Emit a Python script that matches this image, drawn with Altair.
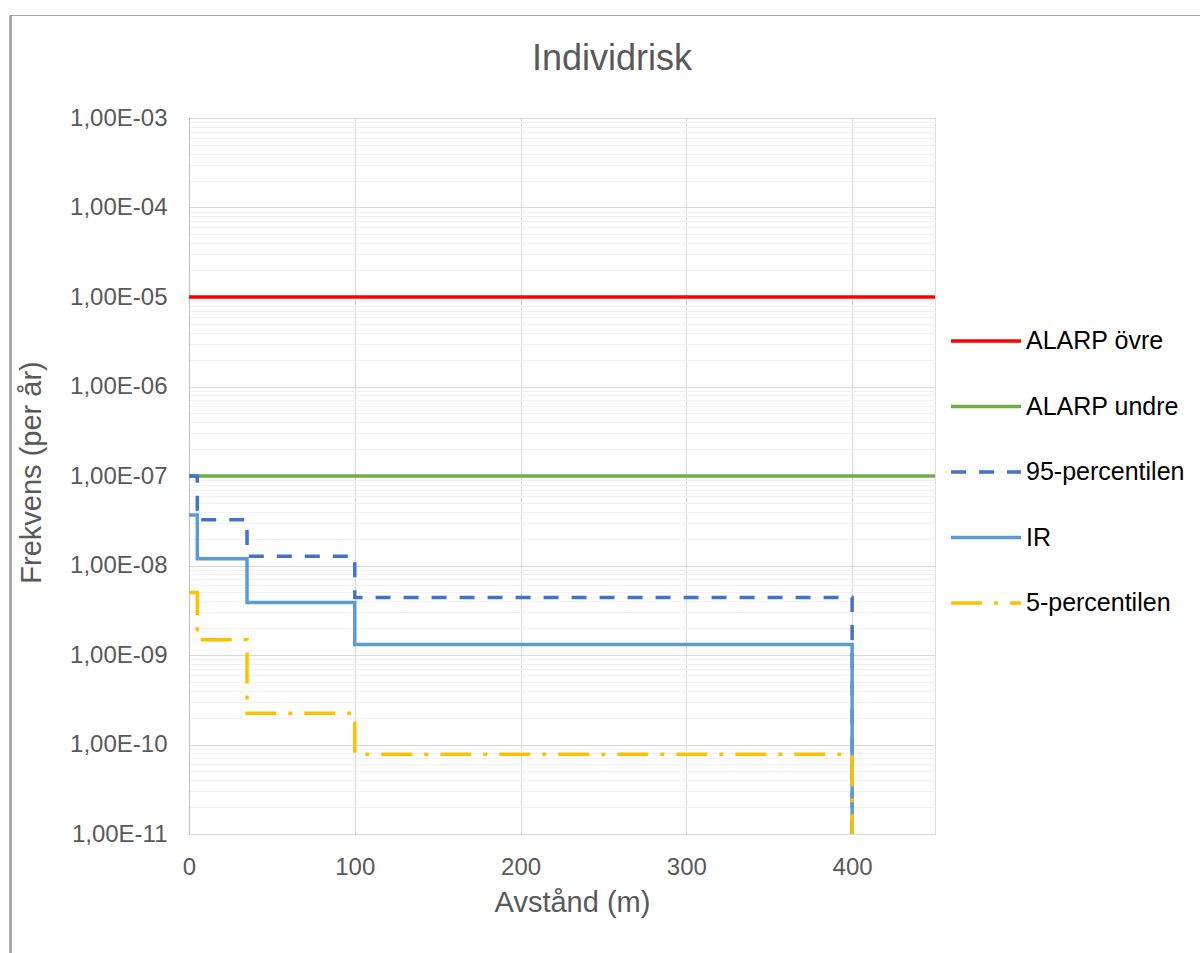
import altair as alt
import pandas as pd

# ---- data ----
series_names = ["ALARP övre", "ALARP undre", "95-percentilen", "IR", "5-percentilen"]
series_colors = ["#FF0000", "#70AD47", "#4472C4", "#5B9BD5", "#FFC000"]
series_dashes = [[1, 0], [1, 0], [15, 13], [1, 0], [31, 12, 4, 12]]

alarp_x = [0, 450]
alarp_upper = [1e-5, 1e-5]
alarp_lower = [1e-7, 1e-7]

step_x = [0, 5, 35, 100, 400]
p95_values = [1.0e-7, 3.24e-8, 1.27e-8, 4.4e-9, 1e-11]
ir_values = [3.66e-8, 1.19e-8, 3.87e-9, 1.31e-9, 1e-11]
p5_values = [5.0e-9, 1.48e-9, 2.24e-10, 7.8e-11, 1e-11]

x_ticks = [0, 100, 200, 300, 400]
y_exponents = list(range(-11, -2))
y_grid_values = [k * 10.0 ** e for e in y_exponents[:-1] for k in range(1, 10)] + [10.0 ** y_exponents[-1]]

rows = []
for name, xs, ys in [
    ("ALARP övre", alarp_x, alarp_upper),
    ("ALARP undre", alarp_x, alarp_lower),
    ("95-percentilen", step_x, p95_values),
    ("IR", step_x, ir_values),
    ("5-percentilen", step_x, p5_values),
]:
    for i, (xv, yv) in enumerate(zip(xs, ys)):
        rows.append({"series": name, "x": xv, "y": yv, "i": i})
df = pd.DataFrame(rows)

FONT = "Liberation Sans"
GREY = "#595959"

is_decade = "abs(log(datum.value)/LN10 - round(log(datum.value)/LN10)) < 0.001"
exp_expr = "round(-log(datum.value)/LN10)"
label_expr = (
    f"{is_decade} ? '1,00E-' + ({exp_expr} < 10 ? '0' : '') + {exp_expr} : ''"
)

legend = alt.Legend(
    title=None,
    orient="none",
    legendX=760,
    legendY=186,
    padding=0,
    symbolType="stroke",
    symbolSize=4900,
    symbolStrokeWidth=3.5,
    labelFont=FONT,
    labelFontSize=25,
    labelColor="#000000",
    labelOffset=3,
    rowPadding=15.5,
)

x_enc = alt.X(
    "x:Q",
    scale=alt.Scale(domain=[0, 450], nice=False, zero=False),
    axis=alt.Axis(
        values=x_ticks,
        title="Avstånd (m)",
        grid=True,
        gridColor="#D9D9D9",
        ticks=False,
        tickSize=0,
        domainColor="#D9D9D9",
        labelFont=FONT,
        labelFontSize=24,
        labelColor=GREY,
        labelPadding=21,
        labelFlush=False,
        titleFont=FONT,
        titleFontSize=29,
        titleFontWeight="normal",
        titleColor=GREY,
        titleX=383,
        titleY=77,
        titleBaseline="alphabetic",
        titleAlign="center",
    ),
)

y_enc = alt.Y(
    "y:Q",
    scale=alt.Scale(type="log", domain=[1e-11, 1e-3], nice=False),
    axis=alt.Axis(
        values=y_grid_values,
        labelExpr=label_expr,
        labelOverlap=False,
        ticks=False,
        tickSize=0,
        labelPadding=22,
        labelFont=FONT,
        labelFontSize=24,
        labelColor=GREY,
        grid=True,
        gridColor={"condition": {"test": is_decade, "value": "#D9D9D9"}, "value": "#F2F2F2"},
        domainColor="#BFBFBF",
        title="Frekvens (per år)",
        titleFont=FONT,
        titleFontSize=29,
        titleFontWeight="normal",
        titleColor=GREY,
        titleAngle=270,
        titleX=-149,
        titleY=354,
        titleBaseline="alphabetic",
        titleAlign="center",
    ),
)

color_enc = alt.Color(
    "series:N",
    scale=alt.Scale(domain=series_names, range=series_colors),
    legend=legend,
)
dash_enc = alt.StrokeDash(
    "series:N",
    scale=alt.Scale(domain=series_names, range=series_dashes),
    legend=legend,
)

base = alt.Chart(df)
layers = []
for name in series_names:
    layers.append(
        base.transform_filter(alt.datum.series == name)
        .mark_line(interpolate="step-after", strokeWidth=3.5, clip=True)
        .encode(x=x_enc, y=y_enc, color=color_enc, strokeDash=dash_enc, order="i:Q")
    )

# outer chart frame (thin grey border at the left and top)
frame_left = alt.Chart(df).mark_rule(color="#A6A6A6", strokeWidth=1.2).encode(
    x=alt.value(-178.5), y=alt.value(-102.5), y2=alt.value(900)
)
frame_top = alt.Chart(df).mark_rule(color="#A6A6A6", strokeWidth=1.2).encode(
    x=alt.value(-178.5), x2=alt.value(1100), y=alt.value(-102.5)
)

chart = (
    alt.layer(frame_left, frame_top, *layers)
    .properties(
        width=746,
        height=716,
        padding={"left": 189, "top": 118, "right": 265, "bottom": 119},
        autosize=alt.AutoSizeParams(type="none"),
        title=alt.TitleParams(
            "Individrisk",
            font=FONT,
            fontSize=36,
            fontWeight="normal",
            color=GREY,
            anchor="middle",
            frame="group",
            baseline="alphabetic",
            offset=0,
            dx=50,
            dy=91,
        ),
    )
    .configure_view(stroke=None)
    .configure(background="white")
)

chart.save("out.html", embed_options={"renderer": "svg", "actions": False})
